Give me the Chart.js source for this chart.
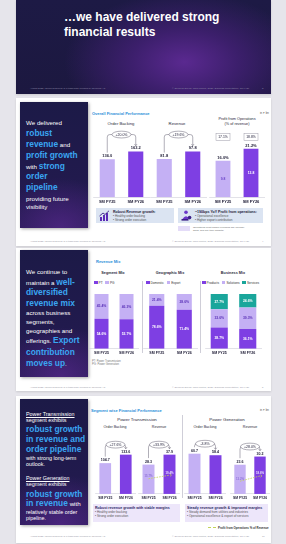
<!DOCTYPE html>
<html lang="en">
<head>
  <meta charset="UTF-8" />
  <meta name="viewport" content="width=device-width, initial-scale=1.0"/>
  <title>Financial Results - Slides</title>
  <style>
    * {
      margin: 0;
      padding: 0;
      box-sizing: border-box;
    }

    body {
      width: 286px;
      height: 544px;
      overflow: hidden;
      position: relative;
      background: #e6e5eb;
      font-family: "Liberation Sans", Arial, sans-serif;
    }

    .abs { position: absolute; white-space: nowrap; }

    /* slides */
    .slide {
      position: absolute;
      left: 16px;
      width: 255px;
      background: #fff;
      box-shadow: 0 1px 2px rgba(0, 0, 0, 0.12);
    }
    .slide.dark {
      background:
        radial-gradient(ellipse 120px 70px at 66% 66%, #5a2990 0%, #3c1f6c 45%, rgba(29, 24, 66, 0) 100%),
        linear-gradient(180deg, #1d1a45 0%, #1c1840 100%);
    }

    /* dark left panels */
    .panel {
      position: absolute;
      left: 20px;
      width: 68px;
      background:
        radial-gradient(ellipse 60px 50px at 60% 100%, rgba(86, 40, 140, 0.7) 0%, rgba(40, 28, 90, 0) 100%),
        linear-gradient(180deg, #1c1a47 0%, #211a4d 60%, #2a1c58 100%);
      box-shadow: 1px 1px 3px rgba(0, 0, 0, 0.35);
    }
    .ln { position: absolute; left: 26px; white-space: nowrap; color: #fff; font-size: 6.2px; line-height: 10px; height: 10px; }
    .ln b { color: #3aa6f2; font-size: 8.4px; font-weight: bold; }
    .ln u { text-decoration: underline; }

    .title { position: absolute; font-size: 4px; font-weight: bold; color: #2a8fd8; white-space: nowrap; }
    .sub { position: absolute; font-size: 4.2px; color: #2b2a3a; white-space: nowrap; transform: translateX(-50%); text-align: center; line-height: 5px; }
    .unit { position: absolute; font-size: 2.8px; color: #555; }
    .foot { position: absolute; font-size: 2.4px; color: #9a98a6; white-space: nowrap; }
    .footd { color: #8d8aa8; }

    .chart { position: absolute; }
    .sep { position: absolute; width: 0; border-left: 0.6px solid #cfced8; }

    .legend { position: absolute; font-size: 3.2px; color: #333; white-space: nowrap; }
    .legend i { display: inline-block; width: 3.5px; height: 3px; margin: 0 1px 0 2px; vertical-align: -0.4px; }

    .box { position: absolute; }
    .box .h { font-size: 3.6px; font-weight: bold; color: #1d1b3a; white-space: nowrap; }
    .box .b { font-size: 3.1px; color: #555; white-space: nowrap; line-height: 4.2px; }
  </style>
</head>
<body>

  <!-- Slide 1 : title -->
  <div class="slide dark" style="top:0; height:94px;"></div>
  <div class="abs" style="left:64px; top:10px; font-size:12px; font-weight:bold; color:#fff; line-height:15px;">
    …we have delivered strong<br>financial results
  </div>
  <div class="foot footd" style="left:30px; top:87px;">August 2025 | Siemens Energy is a trademark licensed by Siemens AG</div>
  <div class="foot footd" style="left:172px; top:87px;">© Siemens Energy India Limited, 2025 | Earnings Presentation, Q1 FY26</div>
  <div class="foot footd" style="left:262px; top:87px;">3</div>

  <!-- Slide 2 : overall financial performance -->
  <div class="slide" style="top:98px; height:148px;"></div>
  <div class="panel" style="top:102px; height:126px;"></div>
  <div class="ln" style="top:118px;">We delivered</div>
  <div class="ln" style="top:128px;"><b>robust</b></div>
  <div class="ln" style="top:139px;"><b>revenue</b> and</div>
  <div class="ln" style="top:150px;"><b>profit growth</b></div>
  <div class="ln" style="top:161px;">with <b>strong</b></div>
  <div class="ln" style="top:171px;"><b>order</b></div>
  <div class="ln" style="top:182px;"><b>pipeline</b></div>
  <div class="ln" style="top:194px;">providing future</div>
  <div class="ln" style="top:202px;">visibility</div>

  <div class="title" style="left:92px; top:111px;">Overall Financial Performance</div>
  <div class="unit" style="left:260px; top:111px;">in ₹ bn</div>
  <div class="sub" style="left:121px; top:121px;">Order Backing</div>
  <div class="sub" style="left:177px; top:121px;">Revenue</div>
  <div class="sub" style="left:237px; top:117px; font-size:3.8px; line-height:4.6px;">Profit from Operations<br>(% of revenue)</div>

  <div class="chart" style="left:93px; top:126px; width:57px; height:80px;"><canvas id="obChart"></canvas></div>
  <div class="chart" style="left:150px; top:126px; width:57px; height:80px;"><canvas id="revChart"></canvas></div>
  <div class="chart" style="left:209px; top:126px; width:56px; height:80px;"><canvas id="pfChart"></canvas></div>

  <div class="box" style="left:96px; top:208px; width:78px; height:15px; background:#dbe4f2;">
    <svg class="abs" style="left:3px; top:2px;" width="11" height="11" viewBox="0 0 11 11">
      <rect x="1" y="7" width="2" height="4" fill="#5b2bb5"/>
      <rect x="4" y="5" width="2" height="6" fill="#5b2bb5"/>
      <rect x="7" y="3" width="2" height="8" fill="#5b2bb5"/>
      <polyline points="0.5,6 4,3 6,4.5 10,0.8" fill="none" stroke="#3b1f86" stroke-width="0.9"/>
    </svg>
    <div class="abs" style="left:17px; top:1.5px;">
      <div class="h">Robust Revenue growth:</div>
      <div class="b">• Healthy order backing<br>• Strong order execution</div>
    </div>
  </div>
  <div class="box" style="left:178px; top:208px; width:85px; height:15px; background:#dbe4f2;">
    <svg class="abs" style="left:3px; top:2px;" width="11" height="11" viewBox="0 0 11 11">
      <circle cx="5" cy="2.2" r="1.8" fill="#6a36c8"/>
      <path d="M1.5 9 Q5 3.5 8.5 9 Z" fill="#6a36c8"/>
      <circle cx="8.6" cy="7.6" r="1.8" fill="#3b1f86"/>
      <rect x="0.5" y="9" width="7" height="1.6" fill="#3b1f86"/>
    </svg>
    <div class="abs" style="left:17px; top:1.5px;">
      <div class="h">~190bps YoY Profit from operations:</div>
      <div class="b">• Operational excellence<br>• Higher export contribution</div>
    </div>
  </div>
  <div class="abs" style="left:178px; top:226px; width:12px; height:5px; background:#e4dcf8;"></div>
  <div class="foot" style="left:193px; top:226px; color:#666; line-height:3px;">Operational profit margin excluding TOI (formally<br>gains, and one-time impacts)</div>
  <div class="foot" style="left:30px; top:240px;">August 2025 | Siemens Energy is a trademark licensed by Siemens AG</div>
  <div class="foot" style="left:172px; top:240px;">© Siemens Energy India Limited, 2025 | Earnings Presentation, Q1 FY26</div>
  <div class="foot" style="left:262px; top:240px;">4</div>

  <!-- Slide 3 : revenue mix -->
  <div class="slide" style="top:248px; height:143px;"></div>
  <div class="panel" style="top:250px; height:127px;"></div>
  <div class="ln" style="top:267px;">We continue to</div>
  <div class="ln" style="top:277px;">maintain a <b>well-</b></div>
  <div class="ln" style="top:287px;"><b>diversified</b></div>
  <div class="ln" style="top:298px;"><b>revenue mix</b></div>
  <div class="ln" style="top:308px;">across business</div>
  <div class="ln" style="top:317px;">segments,</div>
  <div class="ln" style="top:326px;">geographies and</div>
  <div class="ln" style="top:335px;">offerings. <b>Export</b></div>
  <div class="ln" style="top:347px;"><b>contribution</b></div>
  <div class="ln" style="top:358px;"><b>moves up</b>.</div>

  <div class="title" style="left:96px; top:259px;">Revenue Mix</div>
  <div class="sub" style="left:113px; top:271px; font-weight:bold; font-size:3.8px;">Segment Mix</div>
  <div class="sub" style="left:170px; top:271px; font-weight:bold; font-size:3.8px;">Geographic Mix</div>
  <div class="sub" style="left:233px; top:271px; font-weight:bold; font-size:3.8px;">Business Mix</div>

  <div class="legend" style="left:92px; top:281px;"><i style="background:#7e3fe3"></i>PT <i style="background:#c4b0f4"></i>PG</div>
  <div class="legend" style="left:144px; top:281px;"><i style="background:#7e3fe3"></i>Domestic <i style="background:#c4b0f4"></i>Export</div>
  <div class="legend" style="left:200px; top:281px;"><i style="background:#7e3fe3"></i>Products <i style="background:#c4b0f4"></i>Solutions <i style="background:#1aa69b"></i>Services</div>

  <div class="sep" style="left:142px; top:281px; height:72px;"></div>
  <div class="sep" style="left:200px; top:281px; height:72px;"></div>

  <div class="chart" style="left:89px; top:290px; width:50px; height:67px;"><canvas id="segChart"></canvas></div>
  <div class="chart" style="left:143px; top:290px; width:55px; height:67px;"><canvas id="geoChart"></canvas></div>
  <div class="chart" style="left:205px; top:290px; width:57px; height:67px;"><canvas id="bizChart"></canvas></div>

  <div class="foot" style="left:92px; top:360px; color:#777; line-height:3.4px; font-size:2.7px;">PT: Power Transmission<br>PG: Power Generation</div>
  <div class="foot" style="left:30px; top:386px;">August 2025 | Siemens Energy is a trademark licensed by Siemens AG</div>
  <div class="foot" style="left:172px; top:386px;">© Siemens Energy India Limited, 2025 | Earnings Presentation, Q1 FY26</div>
  <div class="foot" style="left:262px; top:386px;">5</div>

  <!-- Slide 4 : segment wise performance -->
  <div class="slide" style="top:396px; height:147px;"></div>
  <div class="panel" style="top:399px; height:126px;"></div>
  <div class="ln" style="top:409px; font-size:5.4px;"><u>Power Transmission</u></div>
  <div class="ln" style="top:415px; font-size:5.4px;">segment exhibits</div>
  <div class="ln" style="top:424px;"><b>robust growth</b></div>
  <div class="ln" style="top:434px;"><b>in revenue and</b></div>
  <div class="ln" style="top:444px;"><b>order pipeline</b></div>
  <div class="ln" style="top:453px; font-size:5.4px;">with strong long-term</div>
  <div class="ln" style="top:459px; font-size:5.4px;">outlook.</div>
  <div class="ln" style="top:473px; font-size:5.4px;"><u>Power Generation</u></div>
  <div class="ln" style="top:479px; font-size:5.4px;">segment exhibits</div>
  <div class="ln" style="top:489px;"><b>robust growth</b></div>
  <div class="ln" style="top:498px;"><b>in revenue</b> with</div>
  <div class="ln" style="top:507px; font-size:5.4px;">relatively stable order</div>
  <div class="ln" style="top:513px; font-size:5.4px;">pipeline.</div>

  <div class="title" style="left:91px; top:408px;">Segment wise Financial Performance</div>
  <div class="unit" style="left:260px; top:408px;">in ₹ bn</div>
  <div class="sub" style="left:137px; top:417px; font-size:4.4px;">Power Transmission</div>
  <div class="sub" style="left:227px; top:417px; font-size:4.4px;">Power Generation</div>
  <div class="sub" style="left:115px; top:425px; font-size:3.6px;">Order Backing</div>
  <div class="sub" style="left:159px; top:425px; font-size:3.6px;">Revenue</div>
  <div class="sub" style="left:205px; top:425px; font-size:3.6px;">Order Backing</div>
  <div class="sub" style="left:250px; top:425px; font-size:3.6px;">Revenue</div>

  <div class="sep" style="left:182px; top:415px; height:83px;"></div>

  <div class="chart" style="left:95px; top:432px; width:41px; height:70px;"><canvas id="ptObChart"></canvas></div>
  <div class="chart" style="left:138px; top:432px; width:42px; height:70px;"><canvas id="ptRevChart"></canvas></div>
  <div class="chart" style="left:184px; top:432px; width:42px; height:70px;"><canvas id="pgObChart"></canvas></div>
  <div class="chart" style="left:230px; top:432px; width:40px; height:70px;"><canvas id="pgRevChart"></canvas></div>

  <div class="box" style="left:93px; top:504px; width:87px; height:18px; background:#ede6fa; padding:1.5px 2px;">
    <div class="h" style="color:#2a1f63;">Robust revenue growth with stable margins</div>
    <div class="b">• Healthy order backing<br>• Strong order execution</div>
  </div>
  <div class="box" style="left:185px; top:504px; width:83px; height:18px; background:#ede6fa; padding:1.5px 2px;">
    <div class="h" style="color:#2a1f63;">Steady revenue growth &amp; improved margins</div>
    <div class="b">• Steady demand from utilities and industries<br>• Operational excellence &amp; export of services</div>
  </div>
  <div class="abs" style="left:208px; top:527px; width:8px; border-top:0.8px dashed #c3d35a;"></div>
  <div class="abs" style="left:218px; top:525.5px; font-size:2.9px; font-weight:bold; color:#333;">Profit from Operations % of Revenue</div>
  <div class="foot" style="left:30px; top:535px;">August 2025 | Siemens Energy is a trademark licensed by Siemens AG</div>
  <div class="foot" style="left:172px; top:535px;">© Siemens Energy India Limited, 2025 | Earnings Presentation, Q1 FY26</div>
  <div class="foot" style="left:262px; top:535px;">10</div>

  <!-- Chart.js CDN -->
  <script src="https://cdn.jsdelivr.net/npm/chart.js"></script>

  <script>
    // ================================
    // Data
    // ================================
    const years = ['SM FY25', 'SM FY26'];

    // overall
    const orderBacking = [136.0, 163.2];
    const revenue = [81.8, 97.8];
    const profitPct = [16.0, 21.2];
    const profitValue = [9.8, 13.8];
    const profitAdjPct = [17.1, 18.8];
    const overallGrowth = ['+20.0%', '+19.6%'];

    // revenue mix (%)
    const segPT = [54.6, 53.7];
    const segPG = [45.4, 46.3];
    const geoDomestic = [78.6, 71.4];
    const geoExport = [21.4, 28.6];
    const bizProducts = [38.7, 36.1];
    const bizSolutions = [33.6, 39.3];
    const bizServices = [27.7, 24.6];

    // segment wise
    const ptOrder = [104.7, 133.6];
    const ptRevenue = [28.3, 37.9];
    const ptMargin = [15.7, 19.4];
    const pgOrder = [60.7, 58.4];
    const pgRevenue = [23.6, 30.2];
    const pgMargin = [13.2, 18.6];
    const segmentGrowth = ['+27.6%', '+33.9%', '-3.8%', '+28.0%'];

    // ================================
    // Styles
    // ================================
    const FONT = '"Liberation Sans", Arial, sans-serif';
    const LIGHT = '#c4b0f4';
    const DARK = '#7e3fe3';
    const TEAL = '#1aa69b';
    const INK = '#23213a';

    Chart.defaults.font.family = FONT;
    Chart.defaults.animation = false;

    // labels, growth bubbles, boxes drawn on top of the bars
    function makeMarks(cfg) {
      return {
        id: 'marks',
        afterDatasetsDraw(chart) {
          const ctx = chart.ctx;
          const bars = chart.getDatasetMeta(0).data;
          const vals = chart.data.datasets[0].data;
          ctx.save();
          ctx.textAlign = 'center';

          // value above bar
          ctx.font = 'bold ' + cfg.size + 'px ' + FONT;
          ctx.fillStyle = INK;
          ctx.textBaseline = 'bottom';
          bars.forEach((b, i) => ctx.fillText(vals[i].toFixed(1) + (cfg.unit || ''), b.x, b.y - 1.2));

          // value inside bar
          if (cfg.inner) {
            ctx.textBaseline = 'middle';
            ctx.font = 'bold 3.4px ' + FONT;
            bars.forEach((b, i) => {
              ctx.fillStyle = i === 0 ? '#6b44c9' : '#fff';
              ctx.fillText(cfg.inner[i].toFixed(1), b.x, (b.y + b.base) / 2);
            });
          }

          // boxed values near the top
          if (cfg.boxes) {
            ctx.font = '3.4px ' + FONT;
            ctx.textBaseline = 'middle';
            ctx.strokeStyle = '#9c9aa8';
            ctx.lineWidth = 0.5;
            bars.forEach((b, i) => {
              const y = chart.chartArea.top + cfg.boxY;
              ctx.strokeRect(b.x - 7, y - 3.5, 14, 7);
              ctx.fillStyle = INK;
              ctx.fillText(cfg.boxes[i].toFixed(1) + '%', b.x, y + 0.2);
            });
          }

          // growth bubble with bracket arrow
          if (cfg.growth) {
            const a = bars[0], c = bars[1];
            const top = Math.min(a.y, c.y) - cfg.lift;
            const cx = (a.x + c.x) / 2, rw = 9.5, rh = 3.4;
            ctx.strokeStyle = '#6f6d7c';
            ctx.lineWidth = 0.55;
            ctx.beginPath();
            ctx.moveTo(a.x, a.y - 6.5);
            ctx.lineTo(a.x, top + 2.5);
            ctx.quadraticCurveTo(a.x, top, a.x + 2.5, top);
            ctx.lineTo(cx - rw, top);
            ctx.moveTo(cx + rw, top);
            ctx.lineTo(c.x - 2.5, top);
            ctx.quadraticCurveTo(c.x, top, c.x, top + 2.5);
            ctx.lineTo(c.x, c.y - 6);
            ctx.stroke();
            ctx.beginPath();
            ctx.moveTo(c.x - 1.3, c.y - 7.5);
            ctx.lineTo(c.x, c.y - 5.8);
            ctx.lineTo(c.x + 1.3, c.y - 7.5);
            ctx.stroke();
            ctx.beginPath();
            ctx.ellipse(cx, top, rw, rh, 0, 0, Math.PI * 2);
            ctx.fillStyle = '#fff';
            ctx.fill();
            ctx.stroke();
            ctx.fillStyle = INK;
            ctx.textBaseline = 'middle';
            ctx.font = '3.5px ' + FONT;
            ctx.fillText(cfg.growth, cx, top + 0.2);
          }

          // margin markers on the dashed line
          if (cfg.margin) {
            const pts = chart.getDatasetMeta(1).data;
            ctx.font = 'bold 2.8px ' + FONT;
            ctx.textBaseline = 'bottom';
            pts.forEach((p, i) => {
              ctx.fillStyle = i === 0 ? '#8e72d8' : '#ece4ff';
              ctx.fillText(cfg.margin[i].toFixed(1) + '%', p.x, p.y - 1);
            });
            const p = pts[1];
            ctx.strokeStyle = '#c3d35a';
            ctx.lineWidth = 0.7;
            ctx.beginPath();
            ctx.moveTo(p.x + 0.5, p.y - 1.2);
            ctx.lineTo(p.x + 2, p.y);
            ctx.lineTo(p.x + 0.5, p.y + 1.2);
            ctx.stroke();
          }
          ctx.restore();
        }
      };
    }

    const flatTicks = (size) => ({
      color: INK,
      font: { size, weight: 'bold' },
      padding: 2,
      autoSkip: false,
      maxRotation: 0,
      minRotation: 0
    });

    function barChart(id, values, cfg) {
      const datasets = [{
        type: 'bar',
        data: values,
        backgroundColor: [LIGHT, DARK],
        barPercentage: cfg.bar,
        categoryPercentage: 1,
        yAxisID: 'y',
        order: 1
      }];
      if (cfg.margin) {
        datasets.push({
          type: 'line',
          data: cfg.margin,
          yAxisID: 'y2',
          borderColor: '#c3d35a',
          borderWidth: 0.8,
          borderDash: [1.6, 1.1],
          pointRadius: 0,
          order: 0
        });
      }
      return new Chart(document.getElementById(id), {
        data: { labels: years, datasets },
        options: {
          responsive: true,
          maintainAspectRatio: false,
          layout: { padding: { top: cfg.padTop || 0 } },
          plugins: { legend: { display: false }, tooltip: { enabled: false } },
          scales: {
            x: {
              grid: { display: false, drawTicks: false },
              border: { color: '#cfced8', width: 0.6 },
              ticks: flatTicks(cfg.tick)
            },
            y: { display: false, min: 0, max: Math.max(...values) * cfg.room },
            y2: { display: false, min: 0, max: 60 }
          }
        },
        plugins: [makeMarks(cfg)]
      });
    }

    // stacked 100% bars with labels inside the segments
    const mixLabels = {
      id: 'mixLabels',
      afterDatasetsDraw(chart) {
        const ctx = chart.ctx;
        ctx.save();
        ctx.textAlign = 'center';
        ctx.textBaseline = 'middle';
        ctx.font = 'bold 3.4px ' + FONT;
        chart.data.datasets.forEach((ds, i) => {
          chart.getDatasetMeta(i).data.forEach((b, j) => {
            ctx.fillStyle = ds.backgroundColor === LIGHT ? '#5b33b8' : '#fff';
            ctx.fillText(ds.data[j].toFixed(1) + '%', b.x, (b.y + b.base) / 2);
          });
        });
        ctx.restore();
      }
    };

    function mixChart(id, names, series, colors, bar) {
      return new Chart(document.getElementById(id), {
        type: 'bar',
        data: {
          labels: years,
          datasets: series.map((s, i) => ({
            label: names[i],
            data: s,
            backgroundColor: colors[i],
            barPercentage: bar,
            categoryPercentage: 1
          }))
        },
        options: {
          responsive: true,
          maintainAspectRatio: false,
          layout: { padding: { top: 4 } },
          plugins: { legend: { display: false }, tooltip: { enabled: false } },
          scales: {
            x: {
              stacked: true,
              grid: { display: false, drawTicks: false },
              border: { color: '#cfced8', width: 0.6 },
              ticks: flatTicks(3.6)
            },
            y: { stacked: true, display: false, min: 0, max: 100 }
          }
        },
        plugins: [mixLabels]
      });
    }

    // ================================
    // 1. Overall Financial Performance
    // ================================
    barChart('obChart', orderBacking, { bar: 0.53, room: 1.56, tick: 4, size: 4, growth: overallGrowth[0], lift: 17 });
    barChart('revChart', revenue, { bar: 0.53, room: 1.56, tick: 4, size: 4, growth: overallGrowth[1], lift: 17 });
    barChart('pfChart', profitPct, { bar: 0.53, room: 1.47, tick: 4, size: 4, unit: '%', inner: profitValue, boxes: profitAdjPct, boxY: 11 });

    // ================================
    // 2. Revenue Mix
    // ================================
    mixChart('segChart', ['PT', 'PG'], [segPT, segPG], [DARK, LIGHT], 0.56);
    mixChart('geoChart', ['Domestic', 'Export'], [geoDomestic, geoExport], [DARK, LIGHT], 0.55);
    mixChart('bizChart', ['Products', 'Solutions', 'Services'], [bizProducts, bizSolutions, bizServices], [DARK, LIGHT, TEAL], 0.6);

    // ================================
    // 3. Segment wise Financial Performance
    // ================================
    barChart('ptObChart', ptOrder, { bar: 0.57, room: 1.475, tick: 3.4, size: 3.6, padTop: 4, growth: segmentGrowth[0], lift: 10 });
    barChart('ptRevChart', ptRevenue, { bar: 0.57, room: 1.475, tick: 3.4, size: 3.6, padTop: 4, growth: segmentGrowth[1], lift: 10, margin: ptMargin });
    barChart('pgObChart', pgOrder, { bar: 0.57, room: 1.44, tick: 3.4, size: 3.6, padTop: 4, growth: segmentGrowth[2], lift: 10 });
    barChart('pgRevChart', pgRevenue, { bar: 0.57, room: 1.55, tick: 3.4, size: 3.6, padTop: 4, growth: segmentGrowth[3], lift: 10, margin: pgMargin });
  </script>
</body>
</html>
